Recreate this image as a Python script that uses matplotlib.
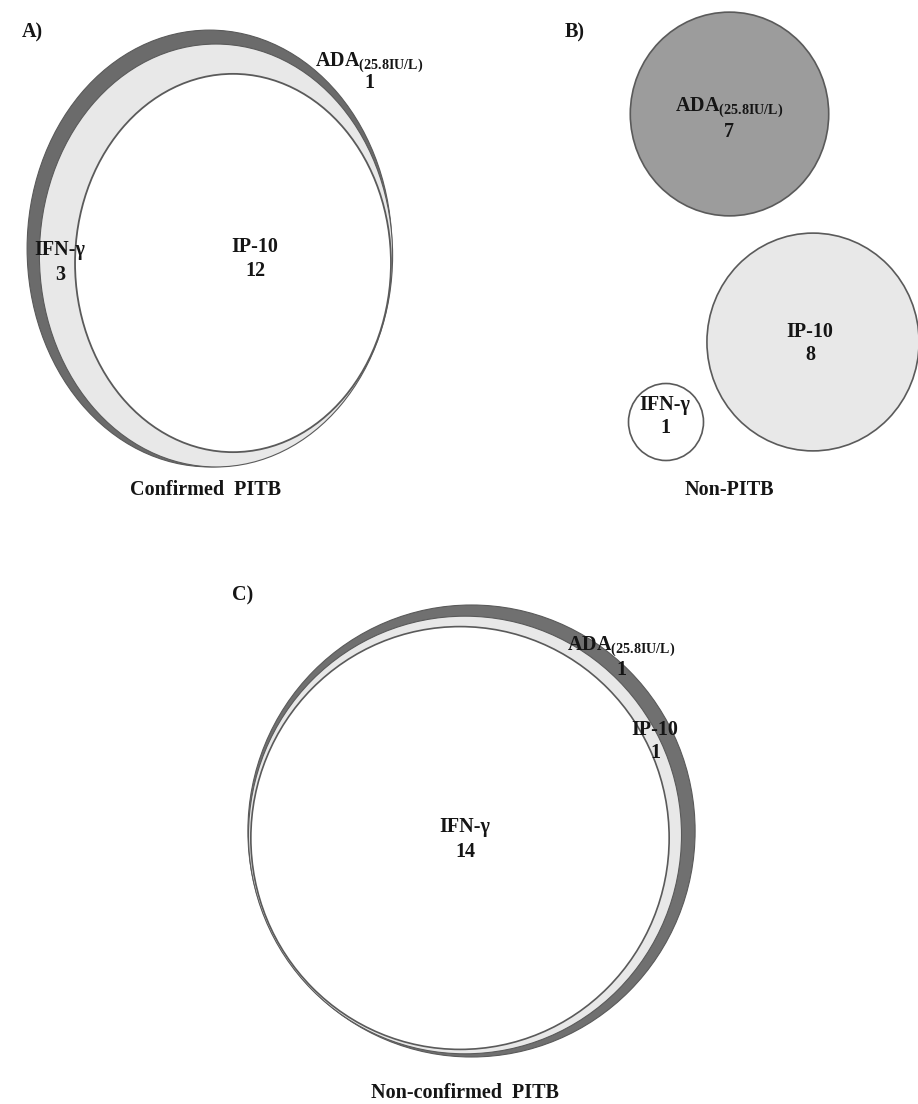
import numpy as np
import matplotlib
matplotlib.use('Agg')
import matplotlib.pyplot as plt
from matplotlib.patches import Ellipse

plt.rcParams['font.family'] = ['Liberation Serif', 'DejaVu Serif']
plt.rcParams['font.weight'] = 'bold'
plt.rcParams['mathtext.fontset'] = 'custom'
plt.rcParams['mathtext.rm'] = 'Liberation Serif:bold'
plt.rcParams['mathtext.bf'] = 'Liberation Serif:bold'

ada_label = r'$\mathrm{ADA}_{\mathrm{(25.8IU/L)}}$'

# A) Confirmed PITB - nested sets, outermost first
a_sets = [ada_label, 'IFN-γ', 'IP-10']
a_regions = [1, 3, 12]
# B) Non-PITB - disjoint sets
b_sets = [ada_label, 'IP-10', 'IFN-γ']
b_regions = [7, 8, 1]
# C) Non-confirmed PITB - nested sets, outermost first
c_sets = [ada_label, 'IP-10', 'IFN-γ']
c_regions = [1, 1, 14]

dark = '#6b6b6b'
mid = '#9c9c9c'
light = '#e8e8e8'
edge = '#5a5a5a'
txt = '#151515'

fig = plt.figure(figsize=(9.18, 11.04), dpi=100)
ax = fig.add_axes([0, 0, 1, 1])
ax.set_xlim(0, 918)
ax.set_ylim(1104, 0)
ax.axis('off')


def nested_sizes(regions):
    # circle size = all regions inside it
    return np.cumsum(regions[::-1])[::-1]


def draw(sizes, centers, kx, ky, colors, lws):
    for n, (cx, cy), c, lw in zip(sizes, centers, colors, lws):
        r = np.sqrt(n)
        ax.add_patch(Ellipse((cx, cy), 2 * kx * r, 2 * ky * r,
                             facecolor=c, edgecolor=edge, lw=lw))


def label(name, count, x, y, gap=24):
    ax.text(x, y, name, ha='center', va='center', fontsize=14.5, color=txt)
    ax.text(x, y + gap, str(count), ha='center', va='center', fontsize=14.5, color=txt)


# ---- A
draw(nested_sizes(a_regions), [(209.5, 248.5), (216, 255.5), (233, 263)],
     45.6, 54.6, [dark, light, 'white'], [0.8, 0.8, 1.3])
label(a_sets[0], a_regions[0], 369, 63, 20)
label(a_sets[1], a_regions[1], 60, 250, 25)
label(a_sets[2], a_regions[2], 255, 247, 24)
ax.text(22, 32, 'A)', ha='left', va='center', fontsize=14.5, color=txt)
ax.text(206, 490, 'Confirmed  PITB', ha='center', va='center', fontsize=14.5, color=txt)

# ---- B
draw(b_regions, [(729.5, 114), (813, 342), (666, 422)],
     37.5, 38.5, [mid, light, 'white'], [1.2, 1.2, 1.2])
label(b_sets[0], b_regions[0], 729, 108, 24)
label(b_sets[1], b_regions[1], 810, 332, 23)
label(b_sets[2], b_regions[2], 665, 405, 23)
ax.text(565, 32, 'B)', ha='left', va='center', fontsize=14.5, color=txt)
ax.text(729, 490, 'Non-PITB', ha='center', va='center', fontsize=14.5, color=txt)

# ---- C
draw(nested_sizes(c_regions), [(471.5, 831), (465, 835), (460, 838)],
     55.9, 56.5, ['#707070', light, 'white'], [0.8, 0.8, 1.2])
label(c_sets[0], c_regions[0], 621, 647, 23)
label(c_sets[1], c_regions[1], 655, 730, 23)
label(c_sets[2], c_regions[2], 465, 827, 25)
ax.text(232, 595, 'C)', ha='left', va='center', fontsize=14.5, color=txt)
ax.text(465, 1093, 'Non-confirmed  PITB', ha='center', va='center', fontsize=14.5, color=txt)

fig.savefig('out.png', dpi=100)
